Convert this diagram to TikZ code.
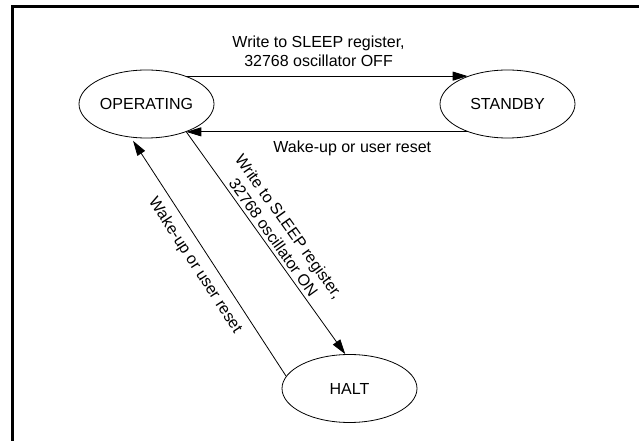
\documentclass[tikz,border=0pt]{standalone}
\usepackage{fontspec}
\setmainfont{Liberation Sans}
\usetikzlibrary{positioning,shapes.geometric,arrows.meta}

\begin{document}
\begin{tikzpicture}[x=1pt, y=1pt, line width=0.8pt,
        >={Triangle[length=15pt,width=9pt]},
        every node/.style={font=\fontsize{16}{19}\selectfont},
        state/.style={ellipse, draw, minimum width=135pt, minimum height=68pt, inner sep=0pt}]
                \useasboundingbox (0,0) rectangle (639,441);
                \draw [line width=3pt] (12,0) -- (12,434) -- (639,434);
                \node [state] (op) at (146.5,337) {OPERATING};
                \node [state] (sb) at (507.5,337) {STANDBY};
                \node [state] (halt) at (349.5,52.5) {HALT};
                \draw [->] (op.35) -- node [above=6pt, pos=0.47, align=center] {Write to SLEEP register,\\32768 oscillator OFF} (sb.145);
                \draw [->] (sb.215) -- node [below=5pt, pos=0.41] {Wake-up or user reset} (op.325);
                \draw [->] (op.325) -- node [above, sloped, align=center] {Write to SLEEP register,\\32768 oscillator ON} (halt.97);
                \draw [->, shorten >=4pt] (halt.169) -- node [below=5pt, sloped] {Wake-up or user reset} (op.245);
            \end{tikzpicture}
\end{document}
